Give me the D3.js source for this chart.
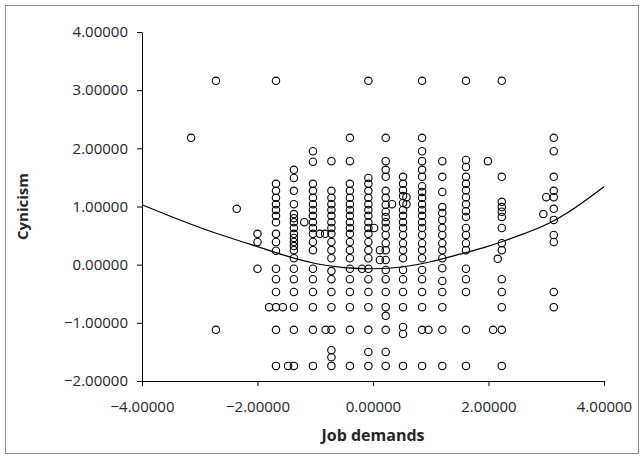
<!DOCTYPE html>
<html>
<head>
<meta charset="utf-8">
<script src="https://cdn.jsdelivr.net/npm/d3@7"></script>
<style>
  body { margin: 0; background: #fff; }
  svg text { font-family: "Open Sans", "Noto Sans", sans-serif; fill: #262626; }
</style>
</head>
<body>
<svg id="plot" width="644" height="459"></svg>
<script>
// x position of each column of respondents (job demands, standardised)
const columnX = [-3.15, -2.72, -2.36, -2.00, -1.80, -1.68, -1.56, -1.47, -1.37, -1.19,
  -1.04, -0.92, -0.83, -0.82, -0.72, -0.40, -0.19, -0.08, 0.02, 0.12,
  0.22, 0.33, 0.52, 0.58, 0.85, 0.96, 1.20, 1.61, 1.99, 2.08,
  2.16, 2.23, 2.95, 3.00, 3.13];

// cynicism scores found in each of those columns (same order)
const columnY = [
  [2.18],
  [3.16, -1.12],
  [0.96],
  [0.53, 0.39, -0.07],
  [-0.73],
  [3.16, 1.39, 1.27, 1.15, 1.04, 0.94, 0.84, 0.73, 0.53, 0.39, 0.24, -0.07, -0.25, -0.47, -0.73, -1.12, -1.74],
  [-0.73],
  [-1.74],
  [1.63, 1.49, 1.27, 1.04, 0.87, 0.80, 0.73, 0.63, 0.53, 0.46, 0.39, 0.32, 0.25, 0.11, -0.07, -0.25, -0.47, -0.73, -1.12, -1.74],
  [0.73],
  [1.95, 1.77, 1.39, 1.27, 1.15, 1.04, 0.94, 0.84, 0.73, 0.63, 0.53, 0.39, 0.25, -0.07, -0.25, -0.47, -0.73, -1.12, -1.74],
  [0.53],
  [0.53],
  [-1.12],
  [1.78, 1.27, 1.15, 1.04, 0.94, 0.84, 0.73, 0.63, 0.53, 0.39, 0.25, 0.11, -0.11, -0.25, -0.47, -0.73, -1.12, -1.47, -1.59, -1.74],
  [2.18, 1.78, 1.39, 1.27, 1.15, 1.04, 0.94, 0.84, 0.73, 0.63, 0.53, 0.39, 0.25, 0.11, -0.07, -0.25, -0.47, -0.73, -1.12, -1.74],
  [-0.07],
  [3.16, 1.49, 1.39, 1.27, 1.15, 1.04, 0.94, 0.84, 0.73, 0.63, 0.53, 0.39, 0.25, 0.11, -0.07, -0.25, -0.47, -0.73, -1.12, -1.50, -1.74],
  [0.63],
  [0.25, 0.08],
  [2.18, 1.78, 1.63, 1.51, 1.27, 1.15, 1.03, 0.91, 0.82, 0.73, 0.63, 0.51, 0.37, 0.25, 0.08, -0.09, -0.25, -0.47, -0.73, -0.88, -1.12, -1.50, -1.74],
  [1.04],
  [1.51, 1.39, 1.28, 1.18, 1.06, 0.94, 0.84, 0.73, 0.63, 0.51, 0.37, 0.25, 0.11, -0.09, -0.25, -0.47, -0.73, -1.07, -1.19, -1.74],
  [1.16, 1.04],
  [3.16, 2.18, 1.95, 1.78, 1.63, 1.51, 1.35, 1.25, 1.15, 1.04, 0.94, 0.84, 0.73, 0.63, 0.51, 0.37, 0.25, 0.11, -0.09, -0.25, -0.47, -0.73, -1.12, -1.74],
  [-1.12],
  [1.78, 1.51, 1.25, 0.99, 0.89, 0.77, 0.63, 0.51, 0.37, 0.25, 0.11, -0.06, -0.28, -0.47, -0.73, -1.12, -1.74],
  [3.16, 1.80, 1.68, 1.51, 1.39, 1.28, 1.16, 1.04, 0.92, 0.82, 0.63, 0.51, 0.37, 0.25, -0.07, -0.25, -0.47, -1.12, -1.74],
  [1.78],
  [-1.12],
  [0.10],
  [3.16, 1.51, 1.08, 0.99, 0.91, 0.82, 0.63, 0.37, 0.25, -0.25, -0.47, -0.73, -1.12, -1.74],
  [0.87],
  [1.16],
  [2.18, 1.95, 1.51, 1.27, 1.16, 0.96, 0.77, 0.51, 0.39, -0.47, -0.73]
];

// fitted trend line
const fitX = [-4, -3, -2, -1.5, -1, -0.5, 0, 0.5, 1, 1.5, 2, 2.5, 3, 3.5, 4];
const fitY = [1.03, 0.64, 0.31, 0.15, 0.02, -0.05, -0.07, -0.04, 0.05, 0.18, 0.32, 0.49, 0.69, 0.98, 1.34];

const xTicks = [-4, -2, 0, 2, 4];
const yTicks = [-2, -1, 0, 1, 2, 3, 4];
const xTitle = "Job demands";
const yTitle = "Cynicism";

const svg = d3.select("#plot");
const width = +svg.attr("width");
const height = +svg.attr("height");
const margin = { left: 142, right: 40, top: 32, bottom: 78 };

// frame round the whole chart
svg.append("rect")
  .attr("x", 5.5).attr("y", 5.5)
  .attr("width", width - 11).attr("height", height - 11)
  .attr("fill", "none").attr("stroke", "#8c8c8c").attr("stroke-width", 1);

const x = d3.scaleLinear().domain([-4, 4]).range([margin.left, width - margin.right]);
const y = d3.scaleLinear().domain([-2, 4]).range([height - margin.bottom, margin.top]);
const fmt = d3.format(".5f");

const xAxis = svg.append("g")
  .attr("transform", `translate(0,${y(-2)})`)
  .call(d3.axisBottom(x).tickValues(xTicks).tickFormat(fmt).tickSize(5).tickPadding(15).tickSizeOuter(0));
const yAxis = svg.append("g")
  .attr("transform", `translate(${x(-4)},0)`)
  .call(d3.axisLeft(y).tickValues(yTicks).tickFormat(fmt).tickSize(5).tickPadding(9).tickSizeOuter(0));

[xAxis, yAxis].forEach(g => {
  g.selectAll("text").style("font-size", "15px").attr("fill", "#262626");
  g.selectAll("line, path").attr("stroke", "#000");
});

svg.append("text")
  .attr("x", (x(-4) + x(4)) / 2).attr("y", 441)
  .attr("text-anchor", "middle")
  .style("font-size", "16px").style("font-weight", "bold")
  .text(xTitle);

svg.append("text")
  .attr("transform", `translate(28,${(y(-2) + y(4)) / 2}) rotate(-90)`)
  .attr("text-anchor", "middle")
  .style("font-size", "15px").style("font-weight", "bold")
  .text(yTitle);

// one point per respondent
const points = [];
columnX.forEach((cx, i) => {
  columnY[i].forEach(cy => points.push({ x: cx, y: cy }));
});

svg.append("g").selectAll("circle").data(points).enter()
  .append("circle")
  .attr("cx", d => x(d.x))
  .attr("cy", d => y(d.y))
  .attr("r", 3.7)
  .attr("fill", "none")
  .attr("stroke", "#000")
  .attr("stroke-width", 1.1);

const fit = fitX.map((fx, i) => ({ x: fx, y: fitY[i] }));
svg.append("path")
  .datum(fit)
  .attr("fill", "none")
  .attr("stroke", "#000")
  .attr("stroke-width", 1.2)
  .attr("d", d3.line().x(d => x(d.x)).y(d => y(d.y)).curve(d3.curveNatural));
</script>
</body>
</html>
